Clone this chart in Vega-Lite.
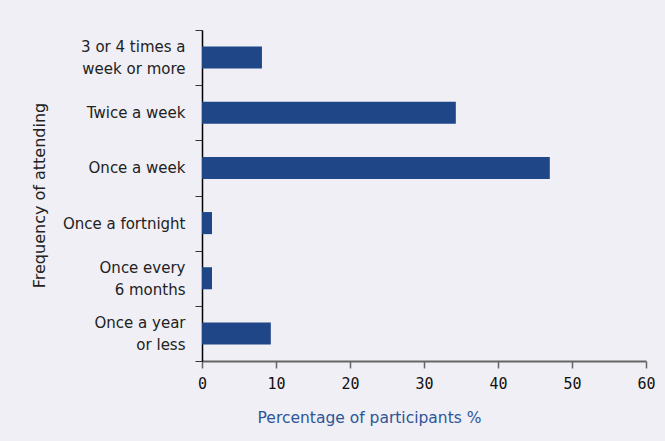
{
  "$schema": "https://vega.github.io/schema/vega-lite/v6.json",
  "autosize": "none",
  "width": 444,
  "height": 331,
  "padding": {"left": 202, "top": 30, "right": 19, "bottom": 80},
  "background": "#efeff5",
  "config": {"view": {"stroke": null}},
  "data": {
    "values": [
      {"frequency": "3 or 4 times a|week or more", "percent": 8.1},
      {"frequency": "Twice a week", "percent": 34.3},
      {"frequency": "Once a week", "percent": 47.0},
      {"frequency": "Once a fortnight", "percent": 1.35},
      {"frequency": "Once every |6 months", "percent": 1.35},
      {"frequency": "Once a year|or less", "percent": 9.3}
    ]
  },
  "mark": {"type": "bar", "color": "#1f4788", "height": {"band": 0.4}},
  "encoding": {
    "y": {
      "field": "frequency",
      "type": "nominal",
      "sort": null,
      "scale": {"paddingInner": 0, "paddingOuter": 0},
      "axis": {
        "title": "Frequency of attending",
        "titleFont": "DejaVu Sans",
        "titleFontSize": 16,
        "titleFontWeight": "normal",
        "titleColor": "#222222",
        "titleX": -155,
        "titleY": 165,
        "titleAngle": -90,
        "titleAlign": "center",
        "titleBaseline": "bottom",
        "labelExpr": "split(datum.label, '|')",
        "labelFont": "DejaVu Sans",
        "labelFontSize": 15,
        "labelColor": "#222222",
        "labelLineHeight": 22,
        "labelPadding": 10,
        "labelAlign": "right",
        "labelBaseline": "middle",
        "labelOffset": {
          "condition": {"test": "indexof(datum.label, '|') >= 0", "value": -11},
          "value": 0
        },
        "tickBand": "extent",
        "tickSize": 7,
        "tickColor": "#333333",
        "domainColor": "#000000",
        "domainWidth": 1.5,
        "grid": false
      }
    },
    "x": {
      "field": "percent",
      "type": "quantitative",
      "scale": {"domain": [0, 60], "nice": false},
      "axis": {
        "title": "Percentage of participants %",
        "titleFont": "DejaVu Sans",
        "titleFontSize": 15.5,
        "titleFontWeight": "normal",
        "titleColor": "#2e5597",
        "titleX": 167,
        "titleY": 56,
        "titleAlign": "center",
        "titleBaseline": "middle",
        "values": [0, 10, 20, 30, 40, 50, 60],
        "labelFlush": false,
        "labelFont": "DejaVu Sans Mono",
        "labelFontSize": 15,
        "labelColor": "#111111",
        "labelPadding": 8,
        "tickSize": 7,
        "tickColor": "#666666",
        "tickWidth": 1.5,
        "domainColor": "#666666",
        "domainWidth": 2,
        "grid": false
      }
    }
  }
}
